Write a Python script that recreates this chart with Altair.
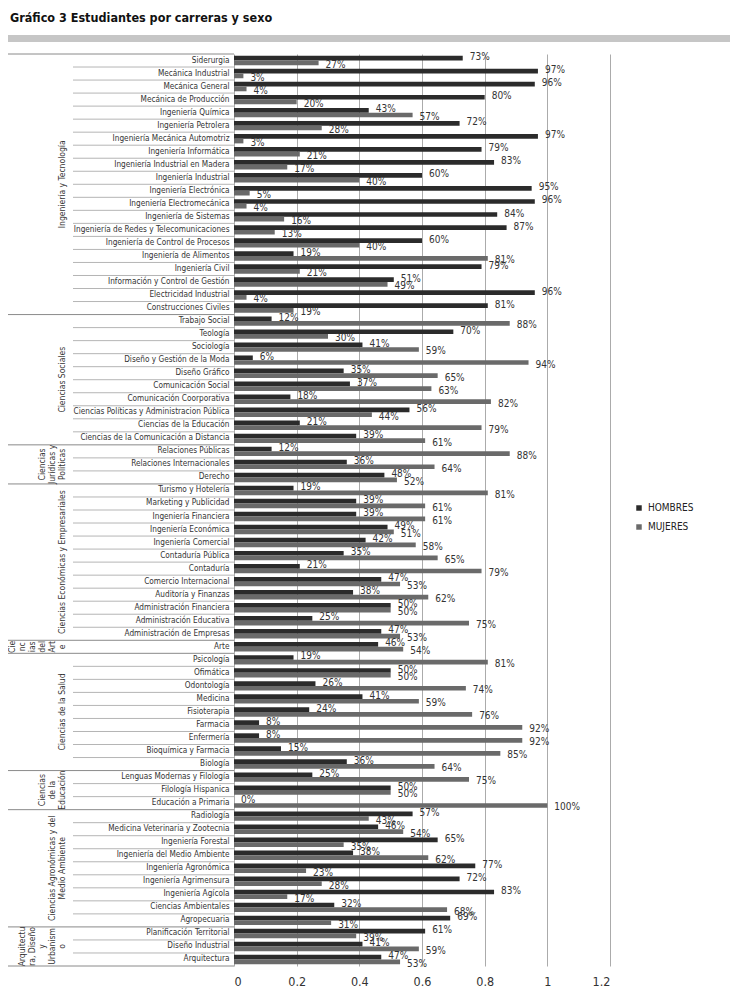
import altair as alt
import pandas as pd

title_text = "Gráfico 3 Estudiantes por carreras y sexo"
series_names = ["HOMBRES", "MUJERES"]

categories = [
    "Siderurgia", "Mecánica Industrial", "Mecánica General", "Mecánica de Producción",
    "Ingeniería Química", "Ingeniería Petrolera", "Ingeniería Mecánica Automotriz",
    "Ingeniería Informática", "Ingeniería Industrial en Madera", "Ingeniería Industrial",
    "Ingeniería Electrónica", "Ingeniería Electromecánica", "Ingeniería de Sistemas",
    "Ingeniería de Redes y Telecomunicaciones", "Ingeniería de Control de Procesos",
    "Ingeniería de Alimentos", "Ingeniería Civil", "Información y Control de Gestión",
    "Electricidad Industrial", "Construcciones Civiles",
    "Trabajo Social", "Teología", "Sociología", "Diseño y Gestión de la Moda",
    "Diseño Gráfico", "Comunicación Social", "Comunicación Coorporativa",
    "Ciencias Políticas y Administracion Pública", "Ciencias de la Educación",
    "Ciencias de la Comunicación a Distancia",
    "Relaciones Públicas", "Relaciones Internacionales", "Derecho",
    "Turismo y Hotelería", "Marketing y Publicidad", "Ingeniería Financiera",
    "Ingeniería Económica", "Ingeniería Comercial", "Contaduría Pública", "Contaduría",
    "Comercio Internacional", "Auditoría y Finanzas", "Administración Financiera",
    "Administración Educativa", "Administración de Empresas",
    "Arte",
    "Psicología", "Ofimática", "Odontología", "Medicina", "Fisioterapia", "Farmacia",
    "Enfermería", "Bioquímica y Farmacia", "Biología",
    "Lenguas Modernas y Filología", "Filología Hispanica", "Educación a Primaria",
    "Radiología", "Medicina Veterinaria y Zootecnia", "Ingeniería Forestal",
    "Ingeniería del Medio Ambiente", "Ingeniería Agronómica", "Ingeniería Agrimensura",
    "Ingeniería Agícola", "Ciencias Ambientales", "Agropecuaria",
    "Planificación Territorial", "Diseño Industrial", "Arquitectura",
]

hombres = [
    73, 97, 96, 80, 43, 72, 97, 79, 83, 60, 95, 96, 84, 87, 60, 19, 79, 51, 96, 81,
    12, 70, 41, 6, 35, 37, 18, 56, 21, 39,
    12, 36, 48,
    19, 39, 39, 49, 42, 35, 21, 47, 38, 50, 25, 47,
    46,
    19, 50, 26, 41, 24, 8, 8, 15, 36,
    25, 50, 0,
    57, 46, 65, 38, 77, 72, 83, 32, 69,
    61, 41, 47,
]

mujeres = [
    27, 3, 4, 20, 57, 28, 3, 21, 17, 40, 5, 4, 16, 13, 40, 81, 21, 49, 4, 19,
    88, 30, 59, 94, 65, 63, 82, 44, 79, 61,
    88, 64, 52,
    81, 61, 61, 51, 58, 65, 79, 53, 62, 50, 75, 53,
    54,
    81, 50, 74, 59, 76, 92, 92, 85, 64,
    75, 50, 100,
    43, 54, 35, 62, 23, 28, 17, 68, 31,
    39, 59, 53,
]

group_labels = [
    "Ingeniería y Tecnología",
    "Ciencias Sociales",
    "Ciencias\nJurídicas y\nPolíticas",
    "Ciencias Económicas y Empresariales",
    "Cie\nnc\nias\ndel\nArt\ne",
    "Ciencias de la Salud",
    "Ciencias\nde la\nEducación",
    "Ciencias Agronómicas y del\nMedio Ambiente",
    "Arquitectu\nra, Diseño\ny\nUrbanism\no",
]
group_sizes = [20, 10, 3, 12, 1, 9, 3, 9, 3]

x_ticks = [0, 0.2, 0.4, 0.6, 0.8, 1, 1.2]

# ---------------- data tables ----------------
rows = []
for c, h, m in zip(categories, hombres, mujeres):
    rows.append({"carrera": c, "sexo": series_names[0], "valor": h / 100})
    rows.append({"carrera": c, "sexo": series_names[1], "valor": m / 100})
df = pd.DataFrame(rows)

first_idx = []
start = 0
for n in group_sizes:
    first_idx.append(start)
    start += n

cat_sep = pd.DataFrame({"carrera": [c for i, c in enumerate(categories) if i not in first_idx]})
grp_sep = pd.DataFrame({"carrera": [categories[i] for i in first_idx]})
last_sep = pd.DataFrame({"carrera": [categories[-1]]})

FONT = "Liberation Sans Narrow, DejaVu Sans Condensed, Liberation Sans, sans-serif"
PLOT_W, PLOT_H = 376, 912
PAD_L, PAD_T, PAD_R, PAD_B = 226, 46, 120, 22
GRP_LH = 10

y_scale = alt.Scale(paddingInner=0, paddingOuter=0)
off_scale = alt.Scale(paddingInner=0, paddingOuter=0.385)


def y_enc(band=None):
    kw = {}
    if band is not None:
        kw["bandPosition"] = band
    return alt.Y(
        "carrera:N", sort=categories, scale=y_scale, title=None,
        axis=alt.Axis(domain=False, ticks=False, labelFontSize=8.2, labelFont=FONT,
                      labelColor="#333333", labelPadding=5, labelLimit=0),
        **kw,
    )


x_enc = alt.X(
    "valor:Q", scale=alt.Scale(domain=[0, 1.2], nice=False), title=None,
    axis=alt.Axis(values=x_ticks, format="~g", grid=True, gridColor="#ababab",
                  gridWidth=1, domain=False, ticks=False, labelFontSize=12.5,
                  labelFont=FONT, labelColor="#333333", labelPadding=9),
)

off_enc = alt.YOffset("sexo:N", sort=series_names, scale=off_scale)

bars = alt.Chart(df).mark_bar().encode(
    x=x_enc,
    y=y_enc(),
    yOffset=off_enc,
    color=alt.Color(
        "sexo:N", sort=series_names,
        scale=alt.Scale(domain=series_names, range=["#2b2b2b", "#6a6a6a"]),
        legend=alt.Legend(title=None, orient="none", legendX=400, legendY=449,
                          symbolType="square", symbolSize=30, symbolStrokeWidth=0,
                          labelFontSize=10, labelFont=FONT, labelColor="#222222",
                          rowPadding=9),
    ),
)

lab_h = alt.Chart(df).transform_filter(alt.datum.sexo == series_names[0]).mark_text(
    align="left", baseline="middle", dx=7, dy=-1, fontSize=10, font=FONT, color="#333333"
).encode(x="valor:Q", y=y_enc(), yOffset=off_enc, text=alt.Text("valor:Q", format=".0%"))

lab_m = alt.Chart(df).transform_filter(alt.datum.sexo == series_names[1]).mark_text(
    align="left", baseline="middle", dx=7, dy=2, fontSize=10, font=FONT, color="#333333"
).encode(x="valor:Q", y=y_enc(), yOffset=off_enc, text=alt.Text("valor:Q", format=".0%"))

sep_cat = alt.Chart(cat_sep).mark_rule(color="#b5b5b5", strokeWidth=1).encode(
    y=y_enc(0), x=alt.value(-161), x2=alt.value(0)
)
sep_grp = alt.Chart(grp_sep).mark_rule(color="#8a8a8a", strokeWidth=1).encode(
    y=y_enc(0), x=alt.value(-226), x2=alt.value(0)
)
sep_last = alt.Chart(last_sep).mark_rule(color="#8a8a8a", strokeWidth=1).encode(
    y=y_enc(1), x=alt.value(-226), x2=alt.value(0)
)

# one text layer per group (rotated, possibly multi-line), right edge aligned
group_layers = []
for lbl, s, n in zip(group_labels, first_idx, group_sizes):
    nlines = lbl.count("\n") + 1
    if n % 2 == 0:
        row_cat, bpos = categories[s + n // 2], 0
    else:
        row_cat, bpos = categories[s + (n - 1) // 2], 0.5
    gdf = pd.DataFrame({"carrera": [row_cat], "grupo": [lbl]})
    group_layers.append(
        alt.Chart(gdf).mark_text(
            angle=270, align="center", baseline="bottom", lineBreak="\n",
            fontSize=8.5, lineHeight=GRP_LH, font=FONT, color="#333333",
            dy=-(nlines - 1) * GRP_LH,
        ).encode(y=y_enc(bpos), x=alt.value(-167), text="grupo:N")
    )

title = alt.Chart(pd.DataFrame({"t": [title_text]})).mark_text(
    align="left", baseline="middle", fontSize=12.5, fontWeight="bold", font=FONT,
    color="#111111"
).encode(x=alt.value(-224), y=alt.value(-36), text="t:N")

band = alt.Chart(pd.DataFrame({"k": [0]})).mark_rule(
    color="#c6c6c6", strokeWidth=7
).encode(x=alt.value(-226), x2=alt.value(PLOT_W + PAD_R), y=alt.value(-15.5))

chart = alt.layer(
    band, title, sep_cat, sep_grp, sep_last, *group_layers, bars, lab_h, lab_m
).properties(
    width=PLOT_W, height=PLOT_H,
    autosize=alt.AutoSizeParams(type="none"),
    padding={"left": PAD_L, "top": PAD_T, "right": PAD_R, "bottom": PAD_B},
    background="white",
).configure_view(stroke=None)

chart.save("out.html", embed_options={"renderer": "svg", "actions": False})
